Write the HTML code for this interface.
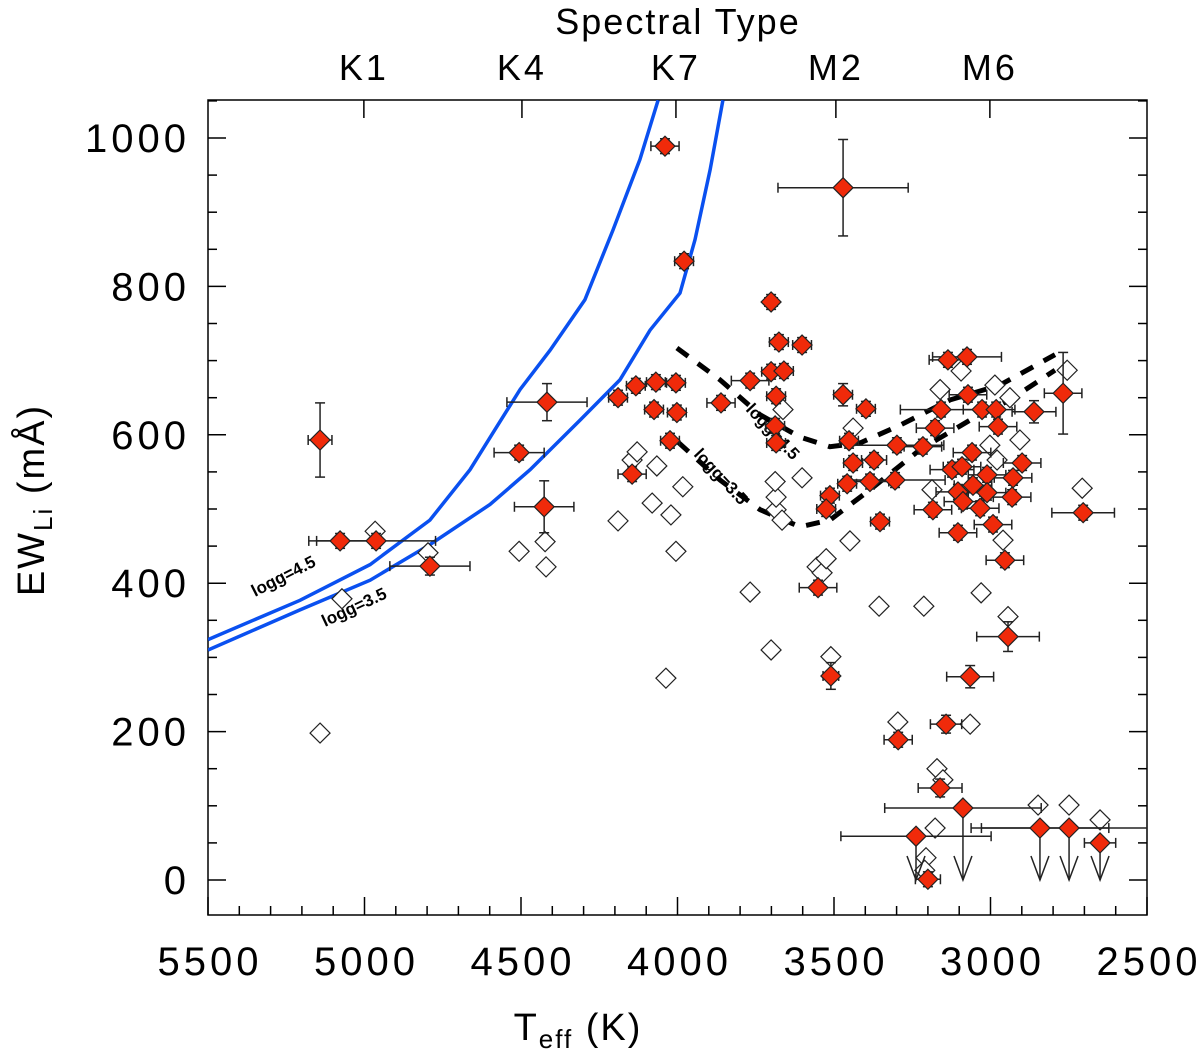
<!DOCTYPE html>
<html><head><meta charset="utf-8">
<style>
body{margin:0;background:#fff;}
svg{display:block;font-family:"Liberation Sans","DejaVu Sans",sans-serif;}
</style></head>
<body>
<svg id="c" width="1200" height="1053" viewBox="0 0 1200 1053" xmlns="http://www.w3.org/2000/svg"></svg>
<script>
// ---- data ----
const redTeff = [5142,5078,4963,4791,4506,4417,4426,4190,4145,4133,4069,4075,4040,4005,4002,4024,3979,3861,3768,3701,3701,3676,3660,3685,3688,3685,3602,3471,3471,3398,3452,3439,3458,3513,3525,3551,3510,3385,3372,3353,3295,
 3136,3075,3072,3158,3027,2982,2861,2768,3177,2976,3299,3216,3059,3305,3123,3091,3011,2928,2899,3104,3056,3011,3088,3033,2931,3184,2992,3104,2954,2704,2944,3065,3142,3161,3088,3238,3200,2842,2749,2650];
const redEW = [593,457,457,423,576,644,503,650,547,666,671,634,989,670,630,592,834,643,673,779,685,725,686,652,612,589,721,933,654,635,592,562,534,518,500,394,275,537,566,483,189,
 701,705,654,634,634,634,631,656,609,611,586,584,576,539,553,557,546,542,562,523,532,522,510,501,516,499,479,468,431,495,328,274,210,124,97,59,1,70,70,50];
const redXerr = [38,100,190,128,80,128,95,30,45,30,30,30,45,30,30,30,30,45,60,20,30,30,30,30,30,30,30,208,30,30,30,30,30,30,30,60,25,60,40,30,45,
 60,110,60,130,60,60,70,60,60,60,150,60,60,160,70,60,60,60,60,70,60,60,60,60,60,60,60,60,60,100,100,75,50,70,250,240,40,220,280,50];
const redYerr = [50,10,10,12,10,25,35,10,10,10,10,10,10,10,10,10,10,10,10,10,10,10,10,10,10,10,10,65,15,10,10,10,10,10,10,10,18,10,10,10,10,
 10,10,10,10,10,10,15,55,10,10,10,10,10,10,10,10,10,10,10,10,10,10,10,10,10,10,10,10,10,10,20,15,12,12,0,0,10,0,0,0];
const redUpper = [0,0,0,0,0,0,0,0,0,0,0,0,0,0,0,0,0,0,0,0,0,0,0,0,0,0,0,0,0,0,0,0,0,0,0,0,0,0,0,0,0,
 0,0,0,0,0,0,0,0,0,0,0,0,0,0,0,0,0,0,0,0,0,0,0,0,0,0,0,0,0,0,0,0,0,0,1,1,0,1,1,1];
const openTeff = [5142,5072,4966,4797,4506,4423,4420,4190,4145,4129,4081,4066,4037,4021,4005,3983,3768,3701,3685,3685,3688,3663,3666,3602,3554,3538,3525,3510,3449,3439,3356,3296,3213,3171,3152,3065,3187,3177,3206,3210,3030,2944,2848,2749,2650,2707,2755,3161,3094,2938,2979,2906,2986,3002,2960];
const openEW = [198,379,470,441,443,456,422,484,566,577,508,558,272,492,443,530,388,310,499,516,537,634,485,542,422,414,433,301,457,609,369,213,369,150,135,210,526,70,30,13,387,355,101,101,81,528,687,661,686,650,566,593,667,586,458];
const modelT45 = [5500,5206,4982,4791,4663,4583,4503,4407,4296,4206,4120,4062];
const modelEW45 = [324,377,425,485,553,607,661,714,782,876,971,1051];
const modelT35 = [5500,5206,4982,4791,4599,4471,4311,4184,4088,3992,3944,3896,3855];
const modelEW35 = [310,364,404,452,506,553,620,674,741,791,863,957,1051];
const dashT45 = [4002,3864,3736,3609,3513,3417,3289,3129,2970,2794];
const dashEW45 = [717,674,627,597,584,589,613,647,667,708];
const dashT35 = [3998,3864,3736,3609,3513,3385,3225,3065,2938,2794];
const dashEW35 = [590,539,499,476,485,526,580,620,647,687];
const xTicks = [5500,5000,4500,4000,3500,3000,2500];
const yTicks = [0,200,400,600,800,1000];
const spT = ["K1","K4","K7","M2","M6"];
const spTeff = [5002,4497,4005,3494,3002];

// ---- axes ----
const L=208,R=1147,T=100,B=915;
const X=t=>L+(5500-t)*(R-L)/3000;
const Y=e=>880-e*0.742;
const svg=document.getElementById('c');
const NS='http://www.w3.org/2000/svg';
function mk(tag,attrs,parent){const e=document.createElementNS(NS,tag);for(const k in attrs)e.setAttribute(k,attrs[k]);(parent||svg).appendChild(e);return e;}

const clip=mk('clipPath',{id:'pc'});mk('rect',{x:L,y:T,width:R-L,height:B-T},clip);

const axg=mk('g',{stroke:'#000','stroke-width':1.5});


for(let t=2500;t<=5500;t+=100){const x=X(t);const len=(t%500===0)?18:9;
 mk('line',{x1:x,y1:B,x2:x,y2:B-len},axg);}
for(let e=-50;e<=1050;e+=50){const y=Y(e);if(y<T||y>B)continue;const len=(e%200===0)?18:9;
 mk('line',{x1:L,y1:y,x2:L+len,y2:y},axg);mk('line',{x1:R,y1:y,x2:R-len,y2:y},axg);}
spTeff.forEach(t=>{mk('line',{x1:X(t),y1:T,x2:X(t),y2:T+18},axg);});
mk('rect',{x:L,y:T,width:R-L,height:B-T,fill:'none'},axg);

xTicks.forEach(t=>{const tx=mk('text',{x:X(t)+2,y:975,'text-anchor':'middle','font-size':40,'letter-spacing':4,fill:'#000'});tx.textContent=t;
 
 });
yTicks.forEach(e=>{const tx=mk('text',{x:190,y:Y(e)+14,'text-anchor':'end','font-size':40,'letter-spacing':4,fill:'#000'});tx.textContent=e;
 
 });
spT.forEach((s,i)=>{const tx=mk('text',{x:X(spTeff[i]),y:80,'text-anchor':'middle','font-size':36,'letter-spacing':3,fill:'#000'});tx.textContent=s;
 
 });
let tt=mk('text',{x:678,y:34,'text-anchor':'middle','font-size':36,'letter-spacing':2});tt.textContent='Spectral Type';


let xt=mk('text',{x:578,y:1040,'text-anchor':'middle','font-size':38,'letter-spacing':2});
xt.innerHTML='T<tspan font-size="26" dy="8">eff</tspan><tspan dy="-8"> (K)</tspan>';


let yt=mk('text',{x:0,y:0,'text-anchor':'middle','font-size':38,'letter-spacing':2,transform:'translate(44,500) rotate(-90)'});
yt.innerHTML='EW<tspan font-size="26" dy="8">Li</tspan><tspan dy="-8"> (mÅ)</tspan>';



const pg=mk('g',{'clip-path':'url(#pc)'});
function line(ts,es,attrs,name){const d=ts.map((t,i)=>(i?'L':'M')+X(t).toFixed(1)+','+Y(es[i]).toFixed(1)).join(' ');
 const p=mk('path',Object.assign({d:d,fill:'none'},attrs),pg);
 
 }
line(modelT45,modelEW45,{stroke:'#0a50f0','stroke-width':3.5},'model-logg45-blue');
line(modelT35,modelEW35,{stroke:'#0a50f0','stroke-width':3.5},'model-logg35-blue');
line(dashT45,dashEW45,{stroke:'#000','stroke-width':5,'stroke-dasharray':'14,12'},'model-logg45-dashed');
line(dashT35,dashEW35,{stroke:'#000','stroke-width':5,'stroke-dasharray':'14,12'},'model-logg35-dashed');

function lab(x,y,rot,s){const t=mk('text',{x:0,y:0,'font-size':17,'font-weight':'bold',transform:`translate(${x},${y}) rotate(${rot})`},pg);t.textContent=s;
 
 }
lab(255,597,-27,'logg=4.5');lab(325,627,-25,'logg=3.5');
lab(745,410,47,'logg=4.5');lab(693,455,47,'logg=3.5');

const D=10;
function dia(x,y){return `M${x},${y-D} L${x+D},${y} L${x},${y+D} L${x-D},${y} Z`;}
openTeff.forEach((t,i)=>{const p=mk('path',{d:dia(X(t),Y(openEW[i])),fill:'#fff',stroke:'#222','stroke-width':1.2},pg);
 
 });
const eg=mk('g',{stroke:'#222','stroke-width':1.5},pg);
redTeff.forEach((t,i)=>{const x=X(t),y=Y(redEW[i]);
 const x1=X(t+redXerr[i]),x2=X(t-redXerr[i]);
 mk('line',{x1:x1,y1:y,x2:x2,y2:y},eg);mk('line',{x1:x1,y1:y-5,x2:x1,y2:y+5},eg);mk('line',{x1:x2,y1:y-5,x2:x2,y2:y+5},eg);
 if(redYerr[i]>0){const y1=Y(redEW[i]+redYerr[i]),y2=Y(redEW[i]-redYerr[i]);
  mk('line',{x1:x,y1:y1,x2:x,y2:y2},eg);mk('line',{x1:x-5,y1:y1,x2:x+5,y2:y1},eg);mk('line',{x1:x-5,y1:y2,x2:x+5,y2:y2},eg);}
 if(redUpper[i]){const yb=Y(0);mk('line',{x1:x,y1:y,x2:x,y2:yb},eg);mk('path',{d:`M${x-9},${yb-24} L${x},${yb} L${x+9},${yb-24}`,fill:'none'},eg);}
});
redTeff.forEach((t,i)=>{const p=mk('path',{d:dia(X(t),Y(redEW[i])),fill:'#f02a0a',stroke:'#222','stroke-width':1.2},pg);
 
 });
</script>
</body></html>
